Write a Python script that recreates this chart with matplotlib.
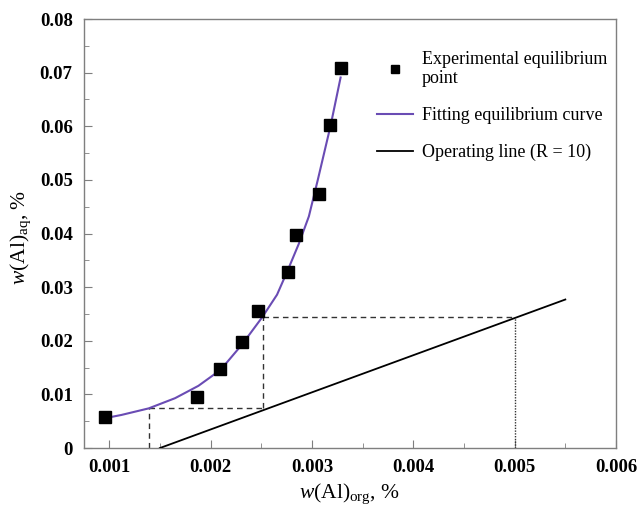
import numpy as np
import matplotlib.pyplot as plt
from matplotlib.ticker import MultipleLocator, FuncFormatter

plt.rcParams['font.family'] = ['Liberation Serif', 'DejaVu Serif']
plt.rcParams['mathtext.fontset'] = 'custom'
plt.rcParams['mathtext.rm'] = 'Liberation Serif'
plt.rcParams['mathtext.it'] = 'Liberation Serif:italic'

# Experimental equilibrium points, w(Al) in organic / aqueous phase (%)
exp_org = [0.000957, 0.00187, 0.00209, 0.00231, 0.00247, 0.00276, 0.00284, 0.00307, 0.00318, 0.00329]
exp_aq = [0.00585, 0.0096, 0.0147, 0.0198, 0.0256, 0.0329, 0.0398, 0.0473, 0.0602, 0.0708]

# Fitted equilibrium curve
fit_org = [0.000953, 0.00112, 0.00139, 0.00165, 0.00188, 0.00210, 0.00231, 0.00251,
           0.002656, 0.002765, 0.002871, 0.002970, 0.003058, 0.003184, 0.003283]
fit_aq = [0.00555, 0.00617, 0.0074, 0.0093, 0.0116, 0.0146, 0.0193, 0.0244,
          0.0286, 0.0333, 0.0381, 0.0432, 0.0500, 0.0601, 0.0691]

# Operating line, R = 10
op_org = [0.0015, 0.0055]
op_aq = [0.0, 0.0277]

# Stage construction between curve and operating line
step_org = [0.00139, 0.00252, 0.005]
step_aq = [0.0074, 0.0244]

fig = plt.figure(figsize=(6.4, 5.08), dpi=100)
ax = fig.add_axes([0.131, 0.118, 0.8315, 0.8445])

ax.plot(fit_org, fit_aq, color='#6a4cb4', lw=1.5, label='Fitting equilibrium curve', zorder=3)
ax.plot(exp_org, exp_aq, 's', color='black', ms=8, ls='none',
        label='Experimental equilibrium\npoint', zorder=4)
ax.plot(op_org, op_aq, color='black', lw=1.3, label='Operating line (R = 10)', zorder=3)

dash = dict(color='#333333', lw=1.0, ls=(0, (4, 3)), zorder=2)
ax.plot([step_org[0], step_org[0]], [0, step_aq[0]], **dash)
ax.plot([step_org[0], step_org[1]], [step_aq[0], step_aq[0]], **dash)
ax.plot([step_org[1], step_org[1]], [step_aq[0], step_aq[1]], **dash)
ax.plot([step_org[1], step_org[2]], [step_aq[1], step_aq[1]], **dash)
ax.plot([step_org[2], step_org[2]], [0, step_aq[1]], color='#333333', lw=1.0, ls=(0, (1, 1)), zorder=2)

ax.set_xlim(0.00075, 0.006)
ax.set_ylim(0, 0.08)
ax.xaxis.set_major_locator(MultipleLocator(0.001))
ax.xaxis.set_minor_locator(MultipleLocator(0.0005))
ax.yaxis.set_major_locator(MultipleLocator(0.01))
ax.yaxis.set_minor_locator(MultipleLocator(0.005))
ax.xaxis.set_major_formatter(FuncFormatter(lambda v, p: f'{v:.3f}'))
ax.yaxis.set_major_formatter(FuncFormatter(lambda v, p: '0' if abs(v) < 1e-12 else f'{v:.2f}'))

for s in ax.spines.values():
    s.set_color('#7f7f7f')
    s.set_linewidth(1.0)
ax.tick_params(which='both', direction='in', color='#7f7f7f')
ax.tick_params(which='major', length=6, labelsize=13.5, pad=8)
ax.tick_params(which='minor', length=3.5)
for lbl in ax.get_xticklabels() + ax.get_yticklabels():
    lbl.set_fontweight('bold')

ax.set_xlabel(r'$w$(Al)$_{\mathrm{org}}$, %', fontsize=15.5, labelpad=4)
ax.set_ylabel(r'$w$(Al)$_{\mathrm{aq}}$, %', fontsize=15.5, labelpad=1)
ax.yaxis.set_label_coords(-0.095, 0.49)

handles, labels = ax.get_legend_handles_labels()
order = [1, 0, 2]
ax.legend([handles[i] for i in order], [labels[i] for i in order],
          loc='upper left', bbox_to_anchor=(0.521, 0.964), frameon=False,
          fontsize=13, handlelength=2.0, handletextpad=0.45, labelspacing=1.1,
          markerscale=0.7)

fig.savefig('out.png', dpi=100)
